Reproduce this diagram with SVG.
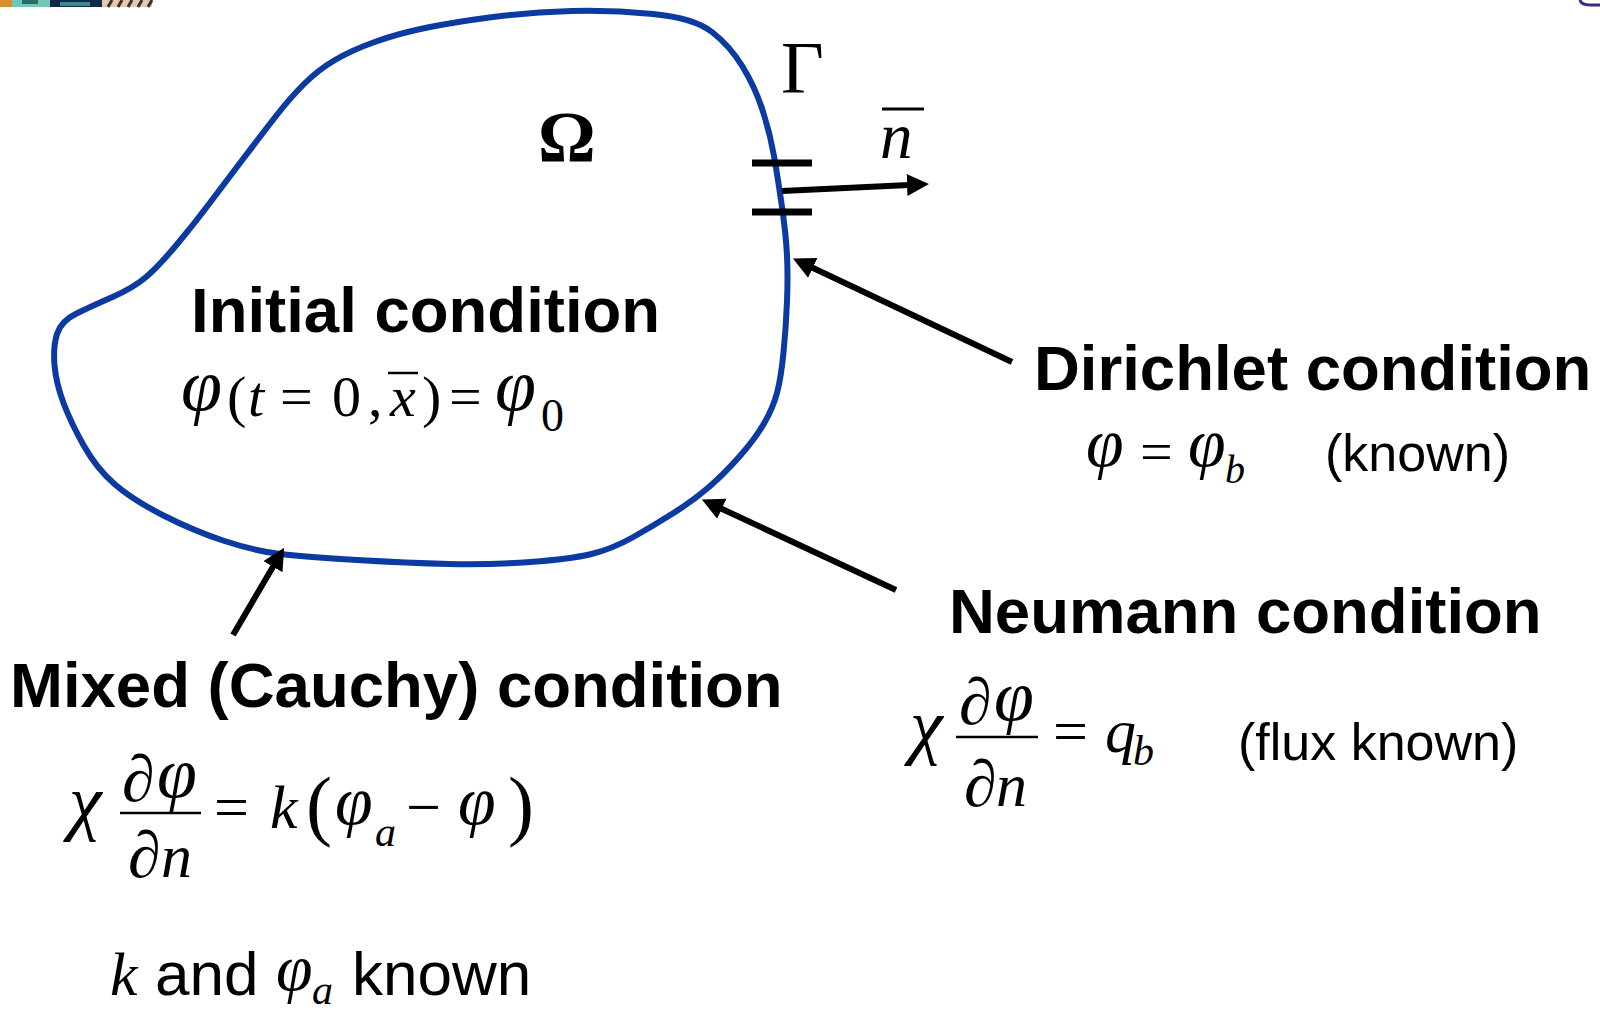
<svg xmlns="http://www.w3.org/2000/svg" width="1600" height="1011" viewBox="0 0 1600 1011">
<style>
.lbl{font-family:"Liberation Sans",Arial,sans-serif;font-weight:bold;font-size:63.5px;fill:#000}
.txt{font-family:"Liberation Sans",Arial,sans-serif;fill:#000}
.m{font-family:"Liberation Serif","Times New Roman",serif;fill:#000}
.i{font-style:italic}
.conn{stroke:#000;stroke-width:6;fill:none}
</style>
<defs>
<marker id="ah" markerWidth="24" markerHeight="24" refX="2" refY="11" orient="auto" markerUnits="userSpaceOnUse">
<path d="M0,0 L22,11 L0,22 Z" fill="#000"/>
</marker>
</defs>
<rect width="1600" height="1011" fill="#fff"/>
<g id="corner-artifacts">
<rect x="0" y="0" width="12" height="7" fill="#d8902a"/>
<rect x="12" y="0" width="38" height="7" fill="#70c8b4"/>
<rect x="22" y="0" width="16" height="4" fill="#2a6a70"/>
<rect x="50" y="0" width="52" height="7" fill="#10284a"/>
<rect x="60" y="2" width="30" height="4" fill="#3a8a90"/>
<rect x="102" y="0" width="50" height="7" fill="#e8c8a8"/>
<path d="M108,7 L112,0 M118,7 L122,0 M128,7 L132,0 M138,7 L142,0 M148,7 L152,0" stroke="#333" stroke-width="3"/>
<path d="M1580,0 Q1581,5 1590,5 L1600,5" stroke="#3a2a8a" stroke-width="3" fill="none"/>
</g>
<g id="domain">
<path d="M376,41.5 Q400,33 427.5,27.5 Q455,22 493,17 Q531,12 571.5,11 Q612,10 653,14 Q694,18 712,32 Q730,46 742.5,66.5 Q755,87 762.5,110 Q770,133 774,156 Q778,179 782,207 Q786,235 787,255.5 Q788,276 787,301.5 Q786,327 783.5,352.5 Q781,378 777,393 Q773,408 764,423.5 Q755,439 739.5,456.5 Q724,474 709,487 Q694,500 673.5,513 Q653,526 632.5,537.5 Q612,549 591.5,554 Q571,559 530.5,562 Q490,565 449,564 Q408,563 357,560 Q306,557 280.5,554 Q255,551 224.5,541 Q194,531 163.5,515.5 Q133,500 115,484.5 Q97,469 84,446 Q71,423 63.5,403 Q56,383 54.5,365 Q53,347 57,334 Q61,321 76.5,313.5 Q92,306 112.5,297 Q133,288 145.5,277.5 Q158,267 176,245.5 Q194,224 209,204 Q224,184 243,159 Q262,134 276,116 Q290,98 304,84 Q318,70 335,60 Q352,50 376,41.5 Z" fill="none" stroke="#0b3aa0" stroke-width="6"/>
<text class="m" x="538" y="161" font-size="72" font-weight="bold">Ω</text>
<text class="m" x="781" y="93" font-size="74">Γ</text>
<line x1="752" y1="163" x2="812" y2="163" stroke="#000" stroke-width="7"/>
<line x1="752" y1="212" x2="812" y2="212" stroke="#000" stroke-width="7"/>
<text class="m i" x="880" y="158" font-size="65">n</text>
<line x1="882" y1="109" x2="924" y2="109" stroke="#000" stroke-width="3"/>
</g>
<g id="initial">
<text class="lbl" x="191" y="332">Initial condition</text>
<g class="m" font-size="58">
<text class="i" x="181" y="410" font-size="74">φ</text>
<text x="227" y="416">(</text>
<text class="i" x="248" y="416">t</text>
<text x="280" y="416">=</text>
<text x="332" y="416">0</text>
<text x="368" y="416">,</text>
<text class="i" x="390" y="416">x</text>
<text x="422" y="416">)</text>
<text x="449" y="416">=</text>
<text class="i" x="495" y="410" font-size="74">φ</text>
<text x="541" y="431" font-size="46">0</text>
</g>
<line x1="388" y1="373" x2="418" y2="373" stroke="#000" stroke-width="2.5"/>
</g>
<g id="dirichlet">
<text class="lbl" x="1034" y="390">Dirichlet condition</text>
<g class="m" font-size="58">
<text class="i" x="1086" y="466" font-size="68">φ</text>
<text x="1140" y="471">=</text>
<text class="i" x="1188" y="466" font-size="68">φ</text>
<text class="i" x="1225" y="483" font-size="40">b</text>
</g>
<text class="txt" x="1325" y="471" font-size="52">(known)</text>
</g>
<g id="neumann">
<text class="lbl" x="949" y="633">Neumann condition</text>
<g class="m" font-size="62">
<text class="i" x="910" y="750" font-size="74">χ</text>
<text x="959" y="724" font-size="66">∂</text>
<text class="i" x="994" y="720" font-size="72">φ</text>
<text x="964" y="806" font-size="66">∂</text>
<text class="i" x="996" y="806">n</text>
<text x="1053" y="752">=</text>
<text class="i" x="1105" y="752">q</text>
<text class="i" x="1133" y="765" font-size="42">b</text>
</g>
<line x1="956" y1="737" x2="1038" y2="737" stroke="#000" stroke-width="2.5"/>
<text class="txt" x="1238" y="760" font-size="52">(flux known)</text>
</g>
<g id="mixed">
<text class="lbl" x="10" y="707">Mixed (Cauchy) condition</text>
<g class="m" font-size="62">
<text class="i" x="69" y="826" font-size="74">χ</text>
<text x="122" y="801" font-size="66">∂</text>
<text class="i" x="157" y="797" font-size="72">φ</text>
<text x="128" y="877" font-size="66">∂</text>
<text class="i" x="161" y="877">n</text>
<text x="214" y="828">=</text>
<text class="i" x="270" y="828">k</text>
<text x="306" y="831" font-size="78">(</text>
<text class="i" x="335" y="824" font-size="68">φ</text>
<text class="i" x="375" y="846" font-size="42">a</text>
<text x="406" y="828">−</text>
<text class="i" x="458" y="824" font-size="68">φ</text>
<text x="508" y="831" font-size="78">)</text>
</g>
<line x1="120" y1="813" x2="201" y2="813" stroke="#000" stroke-width="2.5"/>
<text class="m i" x="110" y="995" font-size="62">k</text>
<text class="txt" x="155" y="995" font-size="62">and</text>
<text class="m i" x="276" y="990" font-size="66">φ</text>
<text class="m i" x="312" y="1004" font-size="42">a</text>
<text class="txt" x="352" y="995" font-size="62">known</text>
</g>
<g id="connectors">
<line class="conn" x1="782" y1="191" x2="909" y2="185" marker-end="url(#ah)"/>
<line class="conn" x1="1012" y1="362" x2="811" y2="267" marker-end="url(#ah)"/>
<line class="conn" x1="896" y1="590" x2="720" y2="508" marker-end="url(#ah)"/>
<line class="conn" x1="233" y1="635" x2="274" y2="565" marker-end="url(#ah)"/>
</g>
</svg>
